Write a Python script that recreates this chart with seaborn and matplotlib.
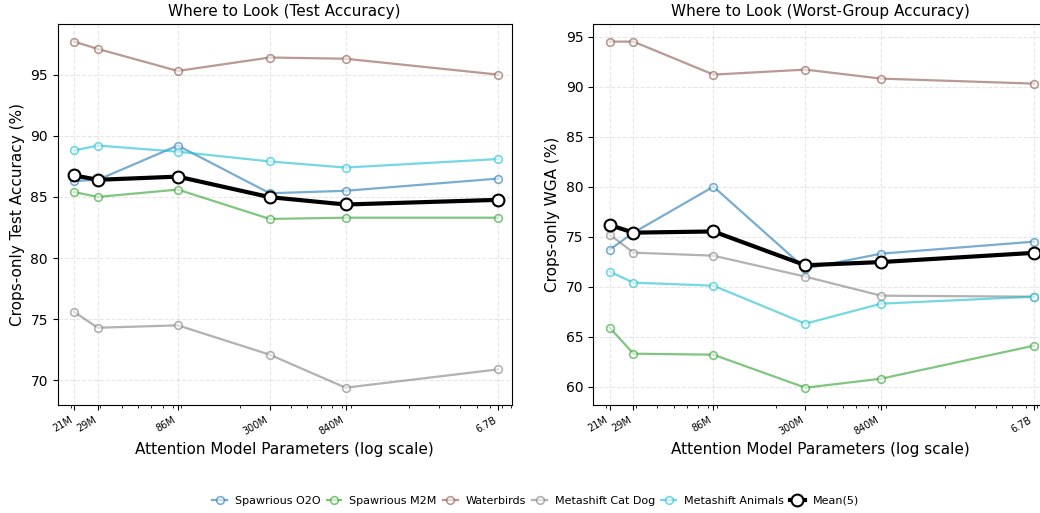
import numpy as np
import pandas as pd
import matplotlib
matplotlib.use("Agg")
import matplotlib.pyplot as plt
import seaborn as sns
from matplotlib.ticker import NullFormatter

# ---- data ----
params = [21e6, 29e6, 86e6, 300e6, 840e6, 6.7e9]
tick_labels = ["21M", "29M", "86M", "300M", "840M", "6.7B"]
datasets = ["Spawrious O2O", "Spawrious M2M", "Waterbirds", "Metashift Cat Dog", "Metashift Animals"]

test_o2o = [86.3, 86.4, 89.2, 85.3, 85.5, 86.5]
test_m2m = [85.4, 85.0, 85.6, 83.2, 83.3, 83.3]
test_wb = [97.7, 97.1, 95.3, 96.4, 96.3, 95.0]
test_catdog = [75.6, 74.3, 74.5, 72.1, 69.4, 70.9]
test_animals = [88.8, 89.2, 88.7, 87.9, 87.4, 88.1]

wga_o2o = [73.7, 75.4, 80.0, 71.8, 73.3, 74.5]
wga_m2m = [65.9, 63.3, 63.2, 59.9, 60.8, 64.1]
wga_wb = [94.5, 94.5, 91.2, 91.7, 90.8, 90.3]
wga_catdog = [75.2, 73.4, 73.1, 71.0, 69.1, 69.0]
wga_animals = [71.5, 70.4, 70.1, 66.3, 68.3, 69.0]

colors = ["tab:blue", "tab:green", "tab:brown", "tab:gray", "tab:cyan"]

panels = [
    ("Where to Look (Test Accuracy)", "Crops-only Test Accuracy (%)",
     [test_o2o, test_m2m, test_wb, test_catdog, test_animals]),
    ("Where to Look (Worst-Group Accuracy)", "Crops-only WGA (%)",
     [wga_o2o, wga_m2m, wga_wb, wga_catdog, wga_animals]),
]

fig = plt.figure(figsize=(10.4, 5.13), dpi=100)
ax_l = fig.add_axes([57.7 / 1040, 108 / 513, 454 / 1040, 380.7 / 513])
ax_r = fig.add_axes([593.3 / 1040, 108 / 513, 454 / 1040, 380.7 / 513])

for ax, (title, ylabel, series) in zip([ax_l, ax_r], panels):
    rows = []
    for name, vals in zip(datasets, series):
        for p, v in zip(params, vals):
            rows.append({"params": p, "value": v, "dataset": name})
    df = pd.DataFrame(rows)
    for name, c in zip(datasets, colors):
        sub = df[df["dataset"] == name]
        sns.lineplot(data=sub, x="params", y="value", ax=ax, color=c, marker="o",
                     markersize=5.5, markerfacecolor="white", markeredgecolor=c,
                     markeredgewidth=1.2, linewidth=1.6, alpha=0.6, label=name,
                     legend=False)
    mean_vals = np.mean(np.array(series), axis=0)
    mdf = pd.DataFrame({"params": params, "value": mean_vals})
    sns.lineplot(data=mdf, x="params", y="value", ax=ax, color="black", marker="o",
                 markersize=8.5, markerfacecolor="white", markeredgecolor="black",
                 markeredgewidth=1.5, linewidth=3, label="Mean(5)", legend=False,
                 zorder=5)
    ax.set_xscale("log")
    ax.set_xlim(params[0] * 0.8, params[-1] * 1.2)
    ax.set_xticks(params)
    ax.set_xticklabels(tick_labels, rotation=30, ha="right", fontsize=7)
    ax.xaxis.set_minor_formatter(NullFormatter())
    ax.tick_params(axis="y", labelsize=10)
    ax.grid(True, linestyle="--", alpha=0.3)
    ax.set_title(title, fontsize=11)
    ax.set_xlabel("Attention Model Parameters (log scale)", fontsize=11)
    ax.set_ylabel(ylabel, fontsize=11)

handles, labels = ax_l.get_legend_handles_labels()
fig.legend(handles, labels, loc="center", bbox_to_anchor=(535.5 / 1040, 12.3 / 513),
           ncol=6, frameon=False, fontsize=8, handlelength=1.3,
           columnspacing=0.6, handletextpad=0.7)

fig.savefig("out.png", dpi=100)
